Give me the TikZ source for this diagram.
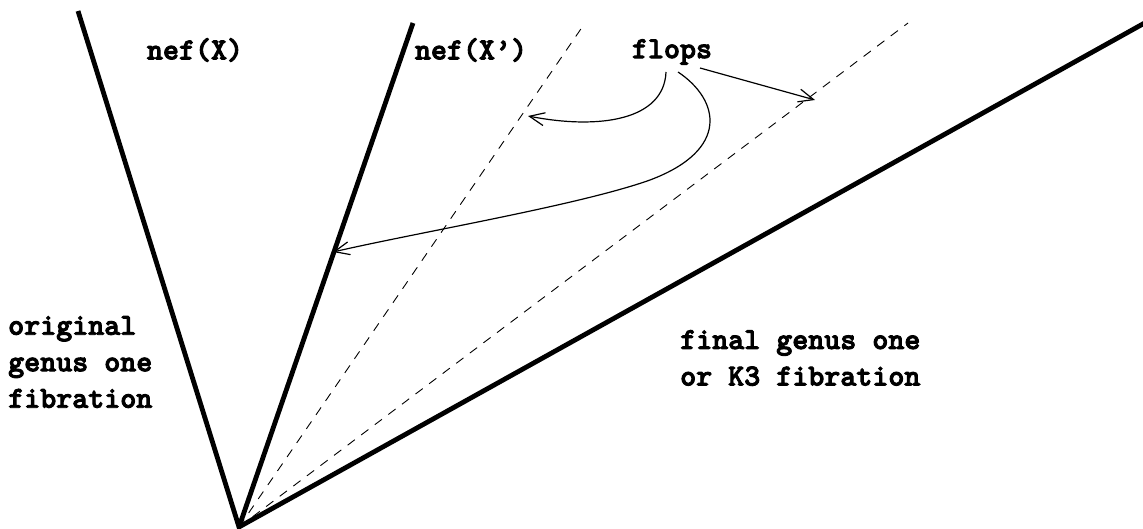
\documentclass[tikz,border=0pt]{standalone}
\usepackage{fontspec}
\newfontfamily\ttbold{lmmonolt10-bold.otf}[FakeBold=3]
\usetikzlibrary{arrows.meta}
\begin{document}
\begin{tikzpicture}[x=1pt,y=-1pt,
  thickline/.style={line width=4.8pt},
  dashline/.style={line width=0.9pt, dash pattern=on 9pt off 8pt},
  flop/.style={line width=1.2pt, -{Straight Barb[length=15pt,width=13pt,line width=1.2pt]}},
  lbl/.style={inner sep=0pt, font=\ttbold\fontsize{30.5}{36.5}\selectfont},
  lblblock/.style={lbl, align=left, anchor=west}]
\useasboundingbox (0,0) rectangle (1143,529);
\coordinate (O) at (239,527);
\coordinate (A) at (78,11);
\coordinate (B) at (413,23);
\coordinate (C) at (585,23);
\coordinate (D) at (908,23);
\coordinate (E) at (1150,20);
\draw[dashline] (O) -- (C);
\draw[dashline] (O) -- (D);
\draw[thickline] (A) -- (O) -- (B);
\draw[thickline] (O) -- (E);
\node[lbl] (nefX) at (195,50) {nef(X)};
\node[lbl] (nefXp) at (471,50) {nef(X’)};
\node[lbl] (flops) at (672,52) {flops};
\node[lblblock] (orig) at (8,362) {original\\genus one\\fibration};
\node[lblblock] (final) at (680,358) {final genus one\\or K3 fibration};
\coordinate (t1) at (528,116);
\coordinate (t2) at (333,252);
\coordinate (t3) at (815,100);
\coordinate (s1) at (666,72);
\coordinate (s2) at (678,72);
\coordinate (s3) at (700,68);
\draw[flop] (s1) .. controls (664,120) and (600,130) .. (t1);
\draw[flop] (s2) .. controls (720,100) and (730,150) .. (650,180) .. controls (580,205) and (420,232) .. (t2);
\draw[flop] (s3) -- (t3);
\end{tikzpicture}
\end{document}
